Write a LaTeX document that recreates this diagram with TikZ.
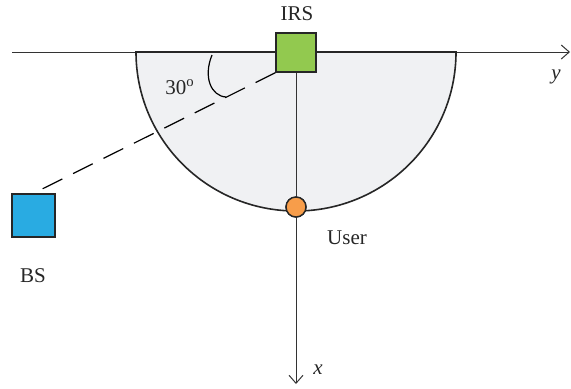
\documentclass[tikz,border=0pt]{standalone}
\usepackage{fontspec}
\setmainfont{Liberation Serif}
\usetikzlibrary{positioning,arrows.meta}
\definecolor{irsgreen}{HTML}{92C94F}
\definecolor{bsblue}{HTML}{29ABE2}
\definecolor{userorange}{HTML}{F79D4A}
\definecolor{regiongray}{HTML}{F0F1F3}

\begin{document}
\begin{tikzpicture}[
    x=0.5pt, y=-0.5pt,
    font=\fontsize{10.5}{12}\selectfont,
    axis/.style   ={-{Straight Barb[length=4pt,width=7pt]}, line width=0.5pt, black!80},
    device/.style ={draw=black!85, line width=0.7pt, inner sep=0pt},
    irsbox/.style ={device, fill=irsgreen, minimum width=20pt, minimum height=19.5pt},
    bsbox/.style  ={device, fill=bsblue, minimum size=21.5pt},
    userdot/.style={device, circle, fill=userorange, minimum size=10pt},
    region/.style ={draw=black!85, line width=0.8pt, fill=regiongray},
    beam/.style   ={line width=0.6pt, dash pattern=on 11pt off 6pt},
    lbl/.style    ={inner sep=1pt, text=black!85},
  ]
  \useasboundingbox (0,0) rectangle (571,388);
  % axis ends
  \coordinate (ax-y0) at (12,52);
  \coordinate (ax-y)  at (570,52);
  \coordinate (ax-x)  at (296,384);
  % y axis along the IRS plane
  \draw[axis] (ax-y0) -- (ax-y);
  % coverage half disc, heavier rim along the diameter
  \draw[region] (136,52) arc[start angle=180, end angle=0, x radius=160, y radius=159] -- cycle;
  \draw[line width=1.1pt, black!85] (136,52) -- (456,52);
  % devices
  \node[irsbox]  (ch-irs)  at (296,52.5) {};
  \node[bsbox]   (ch-bs)   at (33.5,215.5) {};
  \node[userdot] (ch-user) at (296,207) {};
  % x axis down from the IRS through the user
  \draw[axis] (ch-irs.south) -- (ax-x);
  \node[userdot] at (ch-user) {};
  % BS--IRS link
  \draw[beam] (ch-irs.south west) -- (ch-bs.north);
  % angle mark
  \draw[line width=0.6pt] (212,55) .. controls (203,77) and (211,96) .. (226,97);
  % labels
  \node[lbl] (l-irs)  at (297,14)  {IRS};
  \node[lbl] (l-bs)   at (33,276)  {BS};
  \node[lbl] (l-user) at (347,238) {User};
  \node[lbl] (l-ang)  at (180,87)  {30\textsuperscript{o}};
  \node[lbl] (l-y)    at (556,77)  {\textit{y}};
  \node[lbl] (l-x)    at (318,370) {\textit{x}};
\end{tikzpicture}
\end{document}
